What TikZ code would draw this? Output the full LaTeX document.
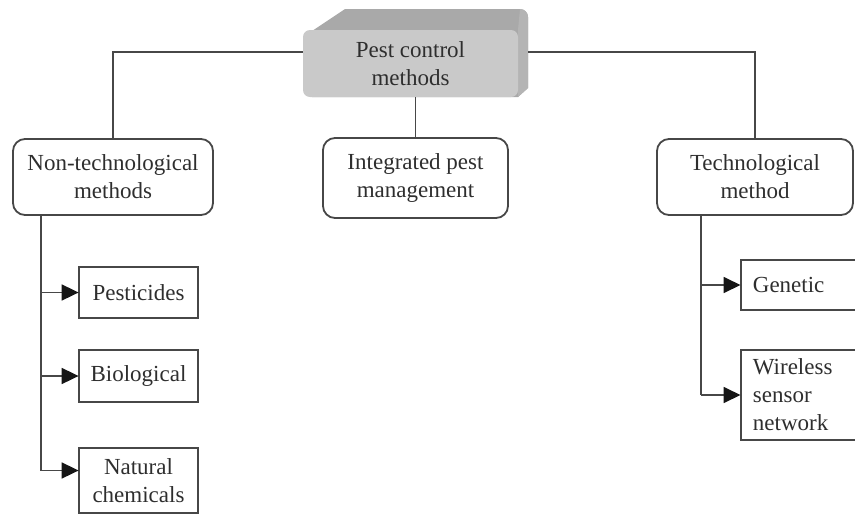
\documentclass[tikz,border=0pt]{standalone}
\usepackage{fontspec}
\setmainfont{Liberation Serif}
\usetikzlibrary{arrows.meta}
\definecolor{ink}{HTML}{2E2E2E}
\definecolor{edge}{HTML}{474747}
\definecolor{tipink}{HTML}{151515}
\definecolor{frontgray}{HTML}{C9C9C9}
\definecolor{topgray}{HTML}{A9A9A9}
\definecolor{sidegray}{HTML}{B4B4B4}
\begin{document}
\begin{tikzpicture}[x=1pt,y=-1pt,
  every node/.style={font=\fontsize{23}{28}\selectfont, text=ink},
  rbox/.style={draw=edge, line width=1.8pt, rounded corners=12pt, align=center, inner sep=0pt},
  sbox/.style={draw=edge, line width=1.8pt, align=center, inner sep=0pt},
  conn/.style={draw=edge, line width=1.8pt},
  arr/.style={conn, -{Triangle[length=17pt,width=16pt,color=tipink]}, shorten >=-0.5pt}]
\useasboundingbox (0,0) rectangle (855,515);
% 3D top box
\fill[topgray] (312,31) -- (345,9) -- (520,9) to[out=0,in=90] (528,17) -- (528,88) -- (518,97) -- (312,97) -- cycle;
\fill[sidegray] (518,30) -- (520,9) to[out=0,in=90] (528,17) -- (528,88) -- (518,97) -- cycle;
\node[fill=frontgray, rounded corners=7pt, minimum width=215pt, minimum height=67pt, inner sep=0pt, align=center] (top) at (410.5,63.5) {Pest control\\methods};
% level 2
\node[rbox, minimum width=200pt, minimum height=76pt] (nt) at (113,177) {Non-technological\\methods};
\node[rbox, minimum width=185pt, minimum height=80pt] (ipm) at (415.5,178) {Integrated pest\\management};
\node[rbox, minimum width=196pt, minimum height=76pt] (tech) at (755,177) {Technological\\method};
% left leaves
\node[sbox, minimum width=119pt, minimum height=51pt] (pest) at (138.5,292.5) {Pesticides};
\node[sbox, minimum width=119pt, minimum height=52pt] (bio) at (138.5,376) {Biological};
\node[sbox, minimum width=119pt, minimum height=65pt] (nat) at (138.5,480.5) {Natural\\chemicals};
% right leaves
\node[sbox, anchor=west, text width=100pt, align=left, inner xsep=12pt, minimum height=50pt] (gen) at (740,285) {Genetic};
\node[sbox, anchor=west, text width=100pt, align=left, inner xsep=12pt, minimum height=90pt] (wsn) at (740,395) {Wireless\\sensor\\network};
% connectors from top
\draw[conn] ([yshift=11.5pt]top.west) -| (nt.north);
\draw[conn] ([yshift=11.5pt,xshift=10pt]top.east) -| (tech.north);
\draw[conn] (top.south -| ipm.north) -- (ipm.north);
% left trunk
\coordinate (lt) at ([xshift=-72pt]nt.south);
\draw[conn] (lt) -- ([yshift=10pt]lt |- nat.west);
\draw[arr] (lt |- pest.west) -- (pest.west);
\draw[arr] (lt |- bio.west) -- (bio.west);
\draw[arr] ([yshift=10pt]lt |- nat.west) -- ([yshift=10pt]nat.west);
% right trunk
\coordinate (rt) at ([xshift=-54pt]tech.south);
\draw[conn] (rt) -- (rt |- wsn.west);
\draw[arr] (rt |- gen.west) -- (gen.west);
\draw[arr] (rt |- wsn.west) -- (wsn.west);
\end{tikzpicture}
\end{document}
